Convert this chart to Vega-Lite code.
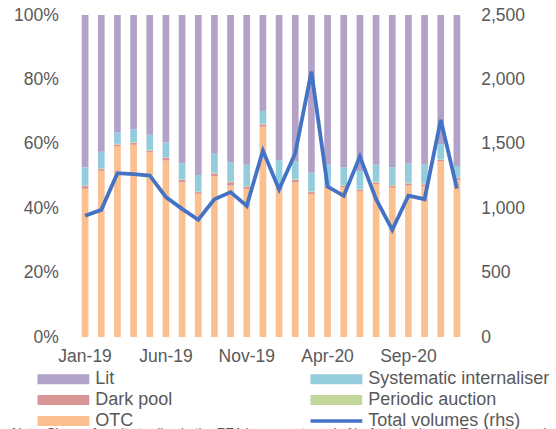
{
  "$schema": "https://vega.github.io/schema/vega-lite/v6.json",
  "width": 388,
  "height": 322,
  "autosize": {"type": "none"},
  "padding": {"left": 77, "top": 15, "right": 91, "bottom": 92},
  "config": {
    "font": "Liberation Sans",
    "view": {"stroke": null},
    "axis": {"labelFont": "Liberation Sans", "labelFontSize": 17.5, "labelColor": "#595959", "grid": false, "domain": false, "ticks": false, "title": null}
  },
  "title": {
    "text": "Note: Share of equity trading in the EEA by venue type, in % of total volumes. Total volumes in EUR bn.",
    "orient": "bottom", "anchor": "start", "frame": "group", "fontSize": 13, "fontWeight": "normal", "color": "#595959", "font": "Liberation Sans", "offset": -4, "dx": -65
  },
  "datasets": {
    "shares": [
      {"month": "Jan-19", "type": "OTC", "share": 46.0}, {"month": "Jan-19", "type": "Dark pool", "share": 0.9}, {"month": "Jan-19", "type": "Periodic auction", "share": 0.2}, {"month": "Jan-19", "type": "Systematic internaliser", "share": 5.6}, {"month": "Jan-19", "type": "Lit", "share": 47.3},
      {"month": "Feb-19", "type": "OTC", "share": 51.6}, {"month": "Feb-19", "type": "Dark pool", "share": 0.6}, {"month": "Feb-19", "type": "Periodic auction", "share": 0.2}, {"month": "Feb-19", "type": "Systematic internaliser", "share": 5.1}, {"month": "Feb-19", "type": "Lit", "share": 42.5},
      {"month": "Mar-19", "type": "OTC", "share": 59.3}, {"month": "Mar-19", "type": "Dark pool", "share": 0.5}, {"month": "Mar-19", "type": "Periodic auction", "share": 0.2}, {"month": "Mar-19", "type": "Systematic internaliser", "share": 3.6}, {"month": "Mar-19", "type": "Lit", "share": 36.4},
      {"month": "Apr-19", "type": "OTC", "share": 59.7}, {"month": "Apr-19", "type": "Dark pool", "share": 0.6}, {"month": "Apr-19", "type": "Periodic auction", "share": 0.2}, {"month": "Apr-19", "type": "Systematic internaliser", "share": 4.0}, {"month": "Apr-19", "type": "Lit", "share": 35.5},
      {"month": "May-19", "type": "OTC", "share": 57.3}, {"month": "May-19", "type": "Dark pool", "share": 0.6}, {"month": "May-19", "type": "Periodic auction", "share": 0.2}, {"month": "May-19", "type": "Systematic internaliser", "share": 4.7}, {"month": "May-19", "type": "Lit", "share": 37.2},
      {"month": "Jun-19", "type": "OTC", "share": 54.8}, {"month": "Jun-19", "type": "Dark pool", "share": 0.8}, {"month": "Jun-19", "type": "Periodic auction", "share": 0.2}, {"month": "Jun-19", "type": "Systematic internaliser", "share": 4.6}, {"month": "Jun-19", "type": "Lit", "share": 39.6},
      {"month": "Jul-19", "type": "OTC", "share": 48.0}, {"month": "Jul-19", "type": "Dark pool", "share": 0.8}, {"month": "Jul-19", "type": "Periodic auction", "share": 0.2}, {"month": "Jul-19", "type": "Systematic internaliser", "share": 5.0}, {"month": "Jul-19", "type": "Lit", "share": 46.0},
      {"month": "Aug-19", "type": "OTC", "share": 44.5}, {"month": "Aug-19", "type": "Dark pool", "share": 0.5}, {"month": "Aug-19", "type": "Periodic auction", "share": 0.2}, {"month": "Aug-19", "type": "Systematic internaliser", "share": 5.1}, {"month": "Aug-19", "type": "Lit", "share": 49.7},
      {"month": "Sep-19", "type": "OTC", "share": 50.0}, {"month": "Sep-19", "type": "Dark pool", "share": 0.8}, {"month": "Sep-19", "type": "Periodic auction", "share": 0.2}, {"month": "Sep-19", "type": "Systematic internaliser", "share": 5.9}, {"month": "Sep-19", "type": "Lit", "share": 43.1},
      {"month": "Oct-19", "type": "OTC", "share": 47.0}, {"month": "Oct-19", "type": "Dark pool", "share": 1.1}, {"month": "Oct-19", "type": "Periodic auction", "share": 0.2}, {"month": "Oct-19", "type": "Systematic internaliser", "share": 6.0}, {"month": "Oct-19", "type": "Lit", "share": 45.7},
      {"month": "Nov-19", "type": "OTC", "share": 46.0}, {"month": "Nov-19", "type": "Dark pool", "share": 0.7}, {"month": "Nov-19", "type": "Periodic auction", "share": 0.2}, {"month": "Nov-19", "type": "Systematic internaliser", "share": 6.6}, {"month": "Nov-19", "type": "Lit", "share": 46.5},
      {"month": "Dec-19", "type": "OTC", "share": 65.3}, {"month": "Dec-19", "type": "Dark pool", "share": 0.7}, {"month": "Dec-19", "type": "Periodic auction", "share": 0.2}, {"month": "Dec-19", "type": "Systematic internaliser", "share": 4.0}, {"month": "Dec-19", "type": "Lit", "share": 29.8},
      {"month": "Jan-20", "type": "OTC", "share": 45.7}, {"month": "Jan-20", "type": "Dark pool", "share": 0.5}, {"month": "Jan-20", "type": "Periodic auction", "share": 0.2}, {"month": "Jan-20", "type": "Systematic internaliser", "share": 8.5}, {"month": "Jan-20", "type": "Lit", "share": 45.1},
      {"month": "Feb-20", "type": "OTC", "share": 48.0}, {"month": "Feb-20", "type": "Dark pool", "share": 0.8}, {"month": "Feb-20", "type": "Periodic auction", "share": 0.2}, {"month": "Feb-20", "type": "Systematic internaliser", "share": 5.6}, {"month": "Feb-20", "type": "Lit", "share": 45.4},
      {"month": "Mar-20", "type": "OTC", "share": 44.4}, {"month": "Mar-20", "type": "Dark pool", "share": 0.6}, {"month": "Mar-20", "type": "Periodic auction", "share": 0.2}, {"month": "Mar-20", "type": "Systematic internaliser", "share": 5.8}, {"month": "Mar-20", "type": "Lit", "share": 49.0},
      {"month": "Apr-20", "type": "OTC", "share": 46.2}, {"month": "Apr-20", "type": "Dark pool", "share": 0.6}, {"month": "Apr-20", "type": "Periodic auction", "share": 0.2}, {"month": "Apr-20", "type": "Systematic internaliser", "share": 6.6}, {"month": "Apr-20", "type": "Lit", "share": 46.4},
      {"month": "May-20", "type": "OTC", "share": 46.5}, {"month": "May-20", "type": "Dark pool", "share": 0.5}, {"month": "May-20", "type": "Periodic auction", "share": 0.2}, {"month": "May-20", "type": "Systematic internaliser", "share": 5.5}, {"month": "May-20", "type": "Lit", "share": 47.3},
      {"month": "Jun-20", "type": "OTC", "share": 45.2}, {"month": "Jun-20", "type": "Dark pool", "share": 0.6}, {"month": "Jun-20", "type": "Periodic auction", "share": 0.2}, {"month": "Jun-20", "type": "Systematic internaliser", "share": 5.5}, {"month": "Jun-20", "type": "Lit", "share": 48.5},
      {"month": "Jul-20", "type": "OTC", "share": 47.5}, {"month": "Jul-20", "type": "Dark pool", "share": 0.5}, {"month": "Jul-20", "type": "Periodic auction", "share": 0.2}, {"month": "Jul-20", "type": "Systematic internaliser", "share": 5.4}, {"month": "Jul-20", "type": "Lit", "share": 46.4},
      {"month": "Aug-20", "type": "OTC", "share": 46.4}, {"month": "Aug-20", "type": "Dark pool", "share": 0.6}, {"month": "Aug-20", "type": "Periodic auction", "share": 0.2}, {"month": "Aug-20", "type": "Systematic internaliser", "share": 5.5}, {"month": "Aug-20", "type": "Lit", "share": 47.3},
      {"month": "Sep-20", "type": "OTC", "share": 47.0}, {"month": "Sep-20", "type": "Dark pool", "share": 0.7}, {"month": "Sep-20", "type": "Periodic auction", "share": 0.2}, {"month": "Sep-20", "type": "Systematic internaliser", "share": 6.0}, {"month": "Sep-20", "type": "Lit", "share": 46.1},
      {"month": "Oct-20", "type": "OTC", "share": 46.7}, {"month": "Oct-20", "type": "Dark pool", "share": 0.7}, {"month": "Oct-20", "type": "Periodic auction", "share": 0.2}, {"month": "Oct-20", "type": "Systematic internaliser", "share": 6.0}, {"month": "Oct-20", "type": "Lit", "share": 46.4},
      {"month": "Nov-20", "type": "OTC", "share": 54.5}, {"month": "Nov-20", "type": "Dark pool", "share": 0.5}, {"month": "Nov-20", "type": "Periodic auction", "share": 0.2}, {"month": "Nov-20", "type": "Systematic internaliser", "share": 4.7}, {"month": "Nov-20", "type": "Lit", "share": 40.1},
      {"month": "Dec-20", "type": "OTC", "share": 48.7}, {"month": "Dec-20", "type": "Dark pool", "share": 0.7}, {"month": "Dec-20", "type": "Periodic auction", "share": 0.2}, {"month": "Dec-20", "type": "Systematic internaliser", "share": 3.5}, {"month": "Dec-20", "type": "Lit", "share": 46.9}
    ],
    "totals": [
      {"month": "Jan-19", "total": 941}, {"month": "Feb-19", "total": 987}, {"month": "Mar-19", "total": 1272}, {"month": "Apr-19", "total": 1264},
      {"month": "May-19", "total": 1254}, {"month": "Jun-19", "total": 1086}, {"month": "Jul-19", "total": 995}, {"month": "Aug-19", "total": 910},
      {"month": "Sep-19", "total": 1070}, {"month": "Oct-19", "total": 1125}, {"month": "Nov-19", "total": 1018}, {"month": "Dec-19", "total": 1447},
      {"month": "Jan-20", "total": 1145}, {"month": "Feb-20", "total": 1427}, {"month": "Mar-20", "total": 2060}, {"month": "Apr-20", "total": 1168},
      {"month": "May-20", "total": 1096}, {"month": "Jun-20", "total": 1401}, {"month": "Jul-20", "total": 1070}, {"month": "Aug-20", "total": 832},
      {"month": "Sep-20", "total": 1098}, {"month": "Oct-20", "total": 1070}, {"month": "Nov-20", "total": 1686}, {"month": "Dec-20", "total": 1153}
    ]
  },
  "layer": [
    {
      "data": {"name": "shares"},
      "transform": [
        {"calculate": "indexof(['OTC','Dark pool','Periodic auction','Systematic internaliser','Lit'], datum.type)", "as": "stackRank"}
      ],
      "mark": {"type": "bar", "width": 6.7},
      "encoding": {
        "x": {
          "field": "month", "type": "ordinal", "sort": null,
          "scale": {"paddingInner": 0, "paddingOuter": 0},
          "axis": {"labelAngle": 0, "labelPadding": 10, "labelOverlap": false, "labelExpr": "indexof(['Jan-19','Jun-19','Nov-19','Apr-20','Sep-20'], datum.value) >= 0 ? datum.value : ''"}
        },
        "y": {
          "field": "share", "type": "quantitative", "stack": "normalize",
          "scale": {"domain": [0, 1]},
          "axis": {"format": ".0%", "values": [0, 0.2, 0.4, 0.6, 0.8, 1], "labelPadding": 18.7}
        },
        "order": {"field": "stackRank", "type": "quantitative", "sort": "ascending"},
        "color": {
          "field": "type", "type": "nominal",
          "scale": {
            "domain": ["Lit", "Dark pool", "OTC", "Systematic internaliser", "Periodic auction", "Total volumes (rhs)"],
            "range": ["#b3a2c7", "#d99694", "#fac090", "#93cddd", "#c3d69b", "#4472c4"]
          },
          "legend": {
            "title": null, "orient": "none", "legendX": -39.7, "legendY": 355.5,
            "columns": 2, "columnPadding": 137, "rowPadding": 2, "padding": 0,
            "symbolType": "M-1,-0.19H1V0.19H-1Z", "symbolSize": 2704, "symbolStrokeWidth": 0,
            "labelFont": "Liberation Sans", "labelFontSize": 18, "labelColor": "#595959", "labelOffset": 6, "labelLimit": 300, "clipHeight": 17,
            "encode": {"symbols": {"update": {
              "shape": {"signal": "datum.value === 'Total volumes (rhs)' ? 'M-1,-0.07H1V0.07H-1Z' : 'M-1,-0.19H1V0.19H-1Z'"},
              "fill": {"scale": "color", "field": "value"},
              "opacity": {"value": 1}
            }}}
          }
        }
      }
    },
    {
      "data": {"name": "totals"},
      "mark": {"type": "line", "strokeWidth": 3.8},
      "encoding": {
        "x": {"field": "month", "type": "ordinal", "sort": null},
        "y": {
          "field": "total", "type": "quantitative",
          "scale": {"domain": [0, 2500]},
          "axis": {"orient": "right", "format": ",.0f", "values": [0, 500, 1000, 1500, 2000, 2500], "labelPadding": 15.7}
        },
        "color": {"datum": "Total volumes (rhs)"}
      }
    }
  ],
  "resolve": {"scale": {"y": "independent"}}
}
